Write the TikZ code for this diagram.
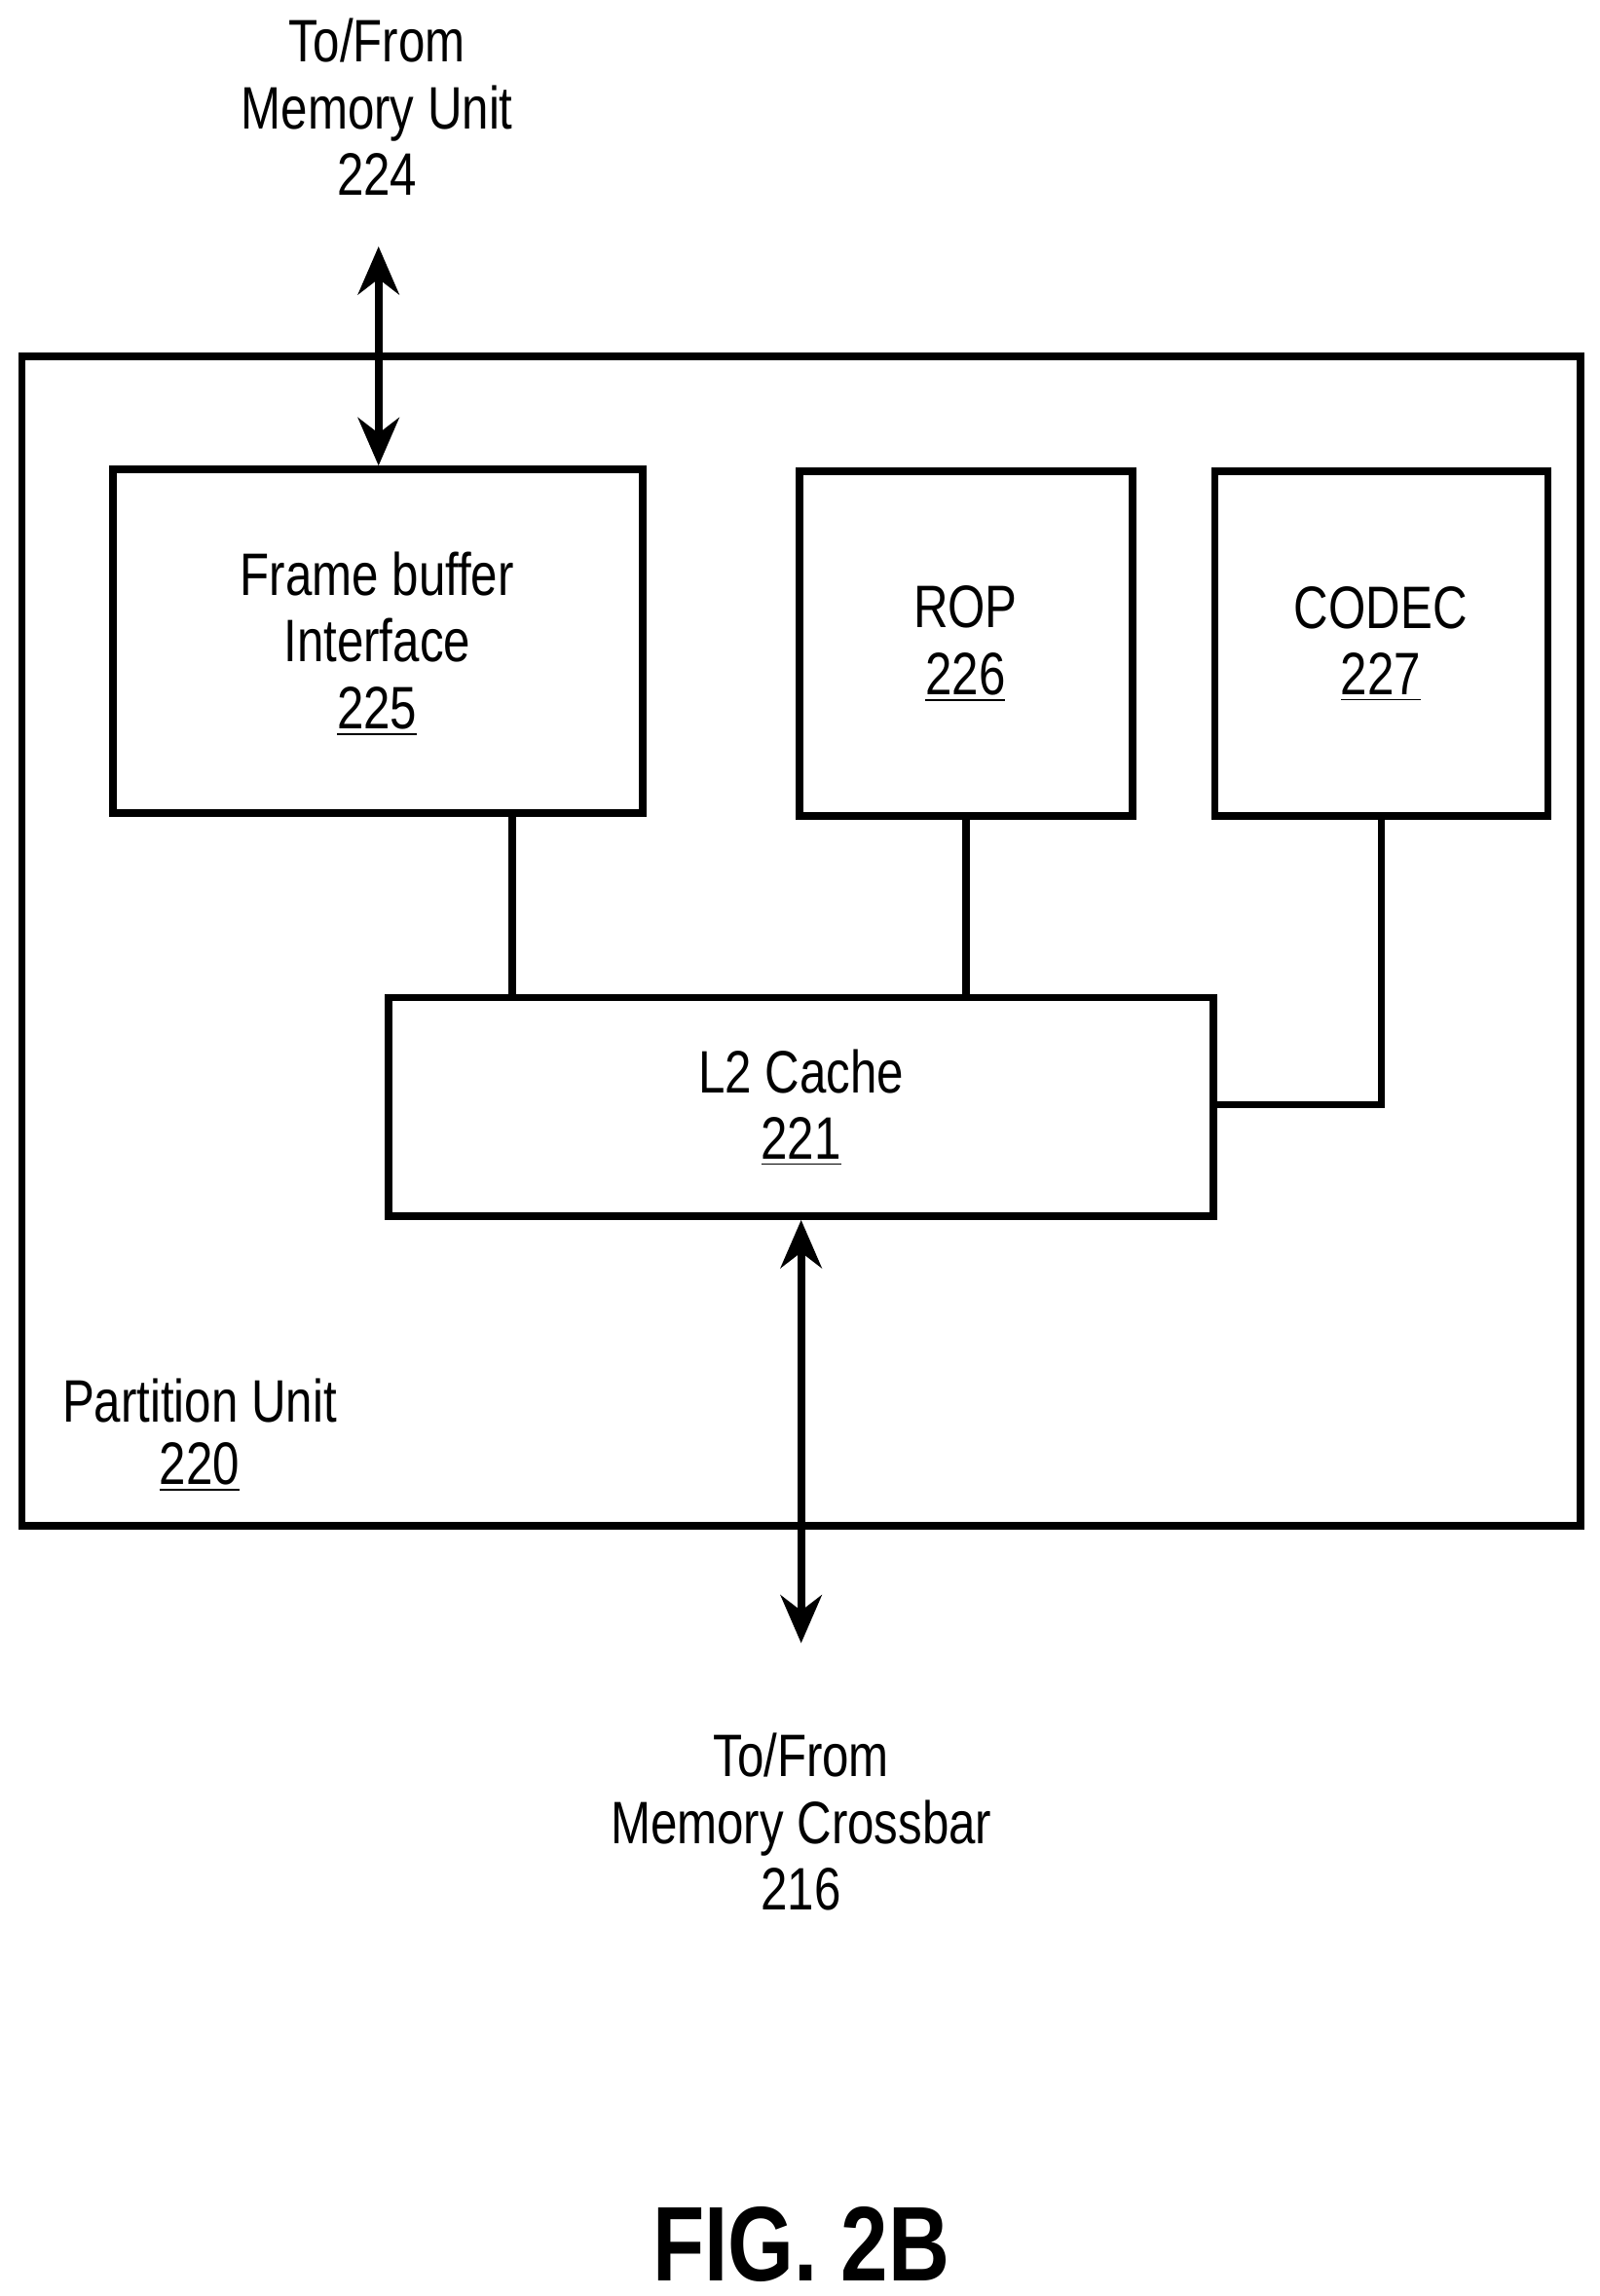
\documentclass[tikz,border=0pt]{standalone}
\usepackage{fontspec}
\setmainfont{Liberation Sans}[FakeStretch=0.8]
\usetikzlibrary{arrows.meta}
\newcommand{\refnum}[1]{\underline{#1}}
\tikzset{
 blk/.style={draw,line width=2.2pt,inner sep=0pt},
 lbl/.style={align=center,font=\fontsize{17.5}{19.5}\selectfont},
 link/.style={line width=2.2pt},
 bus/.style={line width=2.2pt,{Stealth[length=14pt,width=12pt]}-{Stealth[length=14pt,width=12pt]}}
}
\begin{document}
\begin{tikzpicture}[x=0.01506cm,y=-0.01506cm]
 \useasboundingbox (0,0) rectangle (1090,1565);
 \draw[blk] (15,243) rectangle (1077,1040);
 \node[lbl] (pu) at (136,955) {Partition Unit};
 \node[lbl] (punum) at (136,1000) {\refnum{220}};

 \node[blk,minimum width=361*0.01506cm,minimum height=234*0.01506cm] (fb) at (257.5,437) {};
 \node[lbl] (fbt) at (257,439) {Frame buffer\\Interface\\\refnum{225}};
 \node[blk,minimum width=227*0.01506cm,minimum height=235*0.01506cm] (rop) at (658.5,438.5) {};
 \node[lbl] (ropt) at (658,439) {ROP\\\refnum{226}};
 \node[blk,minimum width=227*0.01506cm,minimum height=235*0.01506cm] (codec) at (941.5,438.5) {};
 \node[lbl] (codect) at (941,439) {CODEC\\\refnum{227}};
 \node[blk,minimum width=562*0.01506cm,minimum height=149*0.01506cm] (l2) at (546,754.5) {};
 \node[lbl] (l2t) at (546,755) {L2 Cache\\\refnum{221}};

 \node[lbl] (mem) at (257,73) {To/From\\Memory Unit\\224};
 \node[lbl] (xbar) at (546,1242) {To/From\\Memory Crossbar\\216};
 \node[font=\bfseries\fontsize{31}{34}\selectfont] (fig) at (546,1530) {FIG. 2B};

 \coordinate (memend) at (258,168);
 \coordinate (xbarend) at (546,1120);
 \draw[bus] (memend) -- (fb.north -| memend);
 \draw[bus] (l2.south -| xbarend) -- (xbarend);
 \draw[link] (fb.south -| 349,0) -- (l2.north -| 349,0);
 \draw[link] (rop.south) -- (l2.north -| rop.south);
 \draw[link] (codec.south) -- (codec.south |- 0,753) -- (l2.east |- 0,753);
\end{tikzpicture}
\end{document}
